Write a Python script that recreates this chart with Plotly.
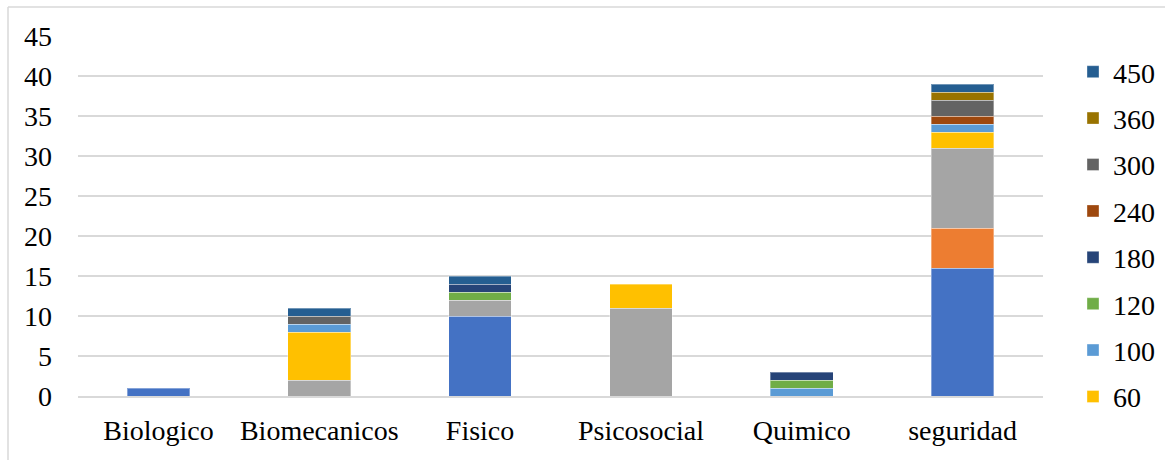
import plotly.graph_objects as go

categories = ["Biologico", "Biomecanicos", "Fisico", "Psicosocial", "Quimico", "seguridad"]

series_names = ["10", "20", "30", "60", "100", "120", "180", "240", "300", "360", "450"]
series_values = [
    [1, 0, 10, 0, 0, 16],   # 10
    [0, 0, 0, 0, 0, 5],     # 20
    [0, 2, 2, 11, 0, 10],   # 30
    [0, 6, 0, 3, 0, 2],     # 60
    [0, 1, 0, 0, 1, 1],     # 100
    [0, 0, 1, 0, 1, 0],     # 120
    [0, 0, 1, 0, 1, 0],     # 180
    [0, 0, 0, 0, 0, 1],     # 240
    [0, 1, 0, 0, 0, 2],     # 300
    [0, 0, 0, 0, 0, 1],     # 360
    [0, 1, 1, 0, 0, 1],     # 450
]
series_colors = ["#4472C4", "#ED7D31", "#A5A5A5", "#FFC000", "#5B9BD5", "#70AD47",
                 "#264478", "#9E480E", "#636363", "#997300", "#255E91"]
legend_visible = [False, False, False, True, True, True, True, True, True, True, True]

y_ticks = [0, 5, 10, 15, 20, 25, 30, 35, 40, 45]

W, H = 1165, 460
L, R, T, B = 78, 122, 36, 64
pw = W - L - R
ph = H - T - B
FONT = "Liberation Serif, Times New Roman, serif"
FS = 28

fig = go.Figure()
legends = {}
n = len(series_names)
for i, (name, vals, col, show) in enumerate(zip(series_names, series_values, series_colors, legend_visible)):
    kw = {}
    if show:
        rank = n - 1 - i  # 0 for the last series (top of legend)
        lid = "legend" if rank == 0 else f"legend{rank + 1}"
        yc = 72 + 46.4 * rank
        legends[lid] = dict(
            x=(1073 - L) / pw, xanchor="left",
            y=(H - B - yc) / ph, yanchor="middle",
            font=dict(family=FONT, size=FS),
            bgcolor="rgba(0,0,0,0)",
        )
        kw["legend"] = lid
    fig.add_trace(go.Bar(
        x=categories,
        y=[v if v else None for v in vals],
        name=name,
        marker=dict(color=col, line=dict(color="rgba(255,255,255,0.35)", width=1)),
        showlegend=show,
        **kw,
    ))

fig.update_layout(
    width=W, height=H,
    barmode="stack",
    bargap=0.61,
    margin=dict(l=L, r=R, t=T, b=B, autoexpand=False),
    paper_bgcolor="white",
    plot_bgcolor="white",
    font=dict(family=FONT, size=FS, color="#000000"),
    xaxis=dict(
        showgrid=False,
        showline=True, linecolor="#D9D9D9", linewidth=1.5,
        ticks="", ticklabelstandoff=9,
        tickfont=dict(family=FONT, size=FS),
    ),
    yaxis=dict(
        range=[0, 45],
        tickvals=y_ticks,
        showgrid=True, gridcolor="#D9D9D9", gridwidth=1.5,
        zeroline=False, showline=False,
        ticks="", ticklabelstandoff=25,
        tickfont=dict(family=FONT, size=FS),
    ),
    shapes=[
        dict(type="line", xref="paper", yref="paper",
             x0=(8 - L) / pw, x1=(8 - L) / pw,
             y0=(H - B - 7) / ph, y1=(H - B - H - 5) / ph,
             line=dict(color="#D9D9D9", width=1.5)),
        dict(type="line", xref="paper", yref="paper",
             x0=(8 - L) / pw, x1=(W + 5 - L) / pw,
             y0=(H - B - 7) / ph, y1=(H - B - 7) / ph,
             line=dict(color="#D9D9D9", width=1.5)),
    ],
)
fig.update_layout(**legends)

fig.write_html("out.html", config={"displayModeBar": False},
               post_script="document.body.style.margin='0';document.body.style.overflow='hidden';")
